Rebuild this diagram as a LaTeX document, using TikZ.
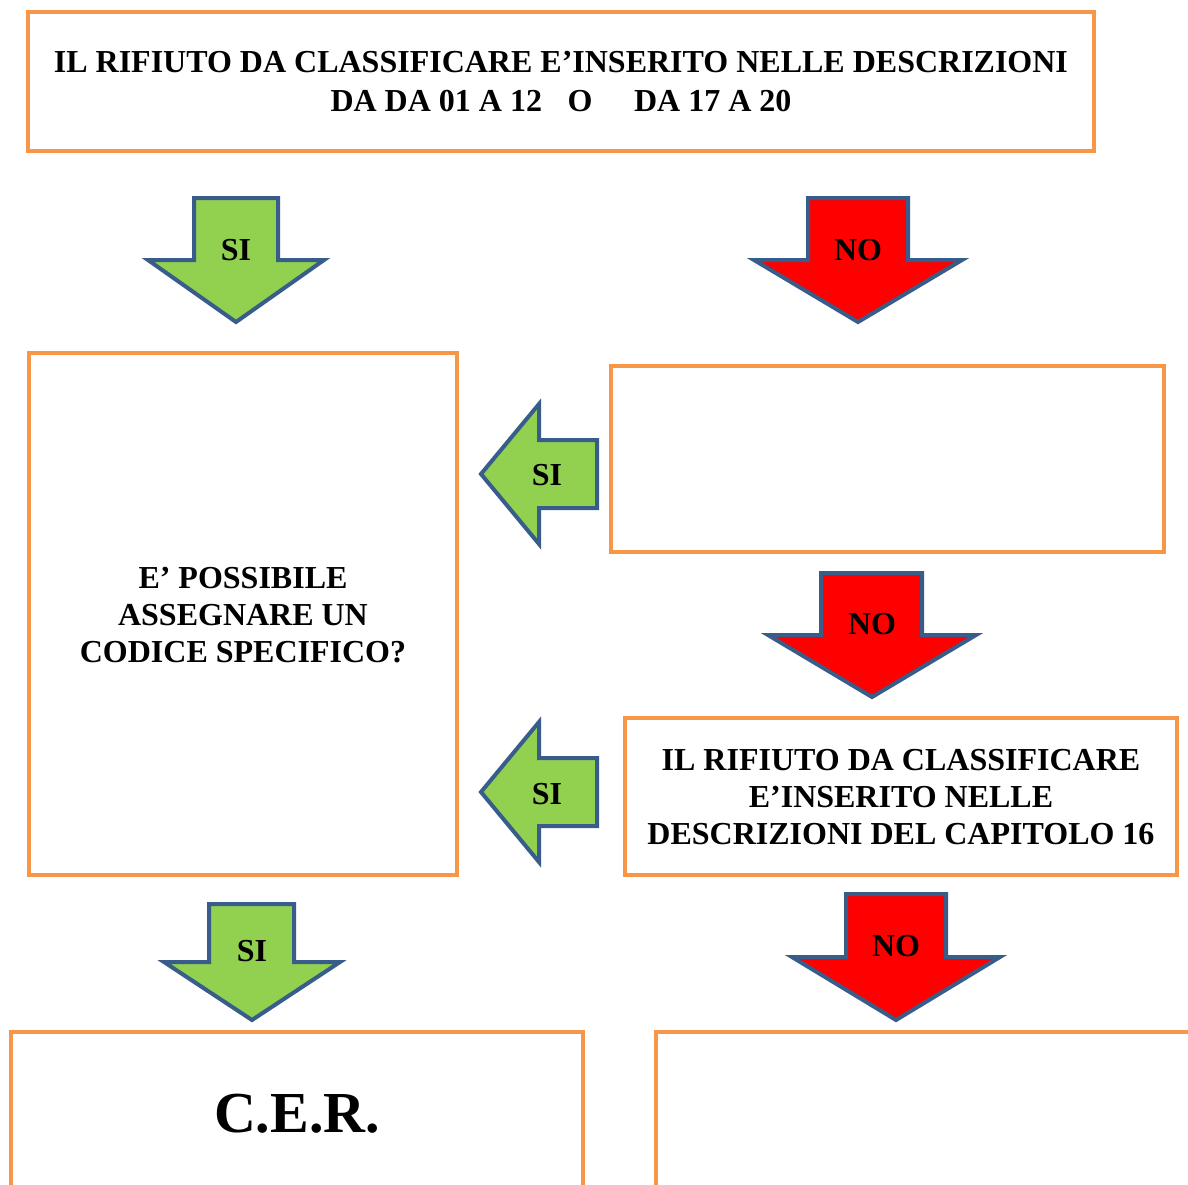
\documentclass[tikz,border=0pt]{standalone}
\usepackage{fontspec}
\setmainfont{Liberation Serif}
\usetikzlibrary{fit}
\definecolor{boxorange}{HTML}{F79646}
\definecolor{arrblue}{HTML}{385D8A}
\definecolor{sigreen}{HTML}{92D050}
\definecolor{nored}{HTML}{FF0000}
\tikzset{
  box/.style={draw=boxorange, line width=2pt, inner sep=0pt, fill=white},
  boxtext/.style={font=\fontsize{16}{18.5}\selectfont\bfseries, align=center, inner sep=0pt},
  siarrow/.style={draw=arrblue, fill=sigreen, line width=2pt, line join=miter},
  noarrow/.style={draw=arrblue, fill=nored, line width=2pt, line join=miter},
  arrlabel/.style={font=\fontsize{16}{18}\selectfont\bfseries, inner sep=0pt},
}
\begin{document}
\begin{tikzpicture}[x=0.5pt,y=-0.5pt]
\useasboundingbox (0,0) rectangle (1188,1184);
\clip (0,0) rectangle (1188,1184);
\fill[white] (0,0) rectangle (1188,1184);

% boxes
\node[box, fit={(28,12) (1094,151)}] (top) {};
\node[boxtext] (toptext) at (561,82) {IL RIFIUTO DA CLASSIFICARE E’INSERITO NELLE DESCRIZIONI\\[1pt]DA DA 01 A 12\hspace{0.8em}O\hspace{1.3em}DA 17 A 20};

\node[box, fit={(29,353) (457,875)}] (left) {};
\node[boxtext] (lefttext) at (243,615) {E’ POSSIBILE\\ASSEGNARE UN\\CODICE SPECIFICO?};

\node[box, fit={(611,366) (1164,552)}] (right1) {};

\node[box, fit={(625,718) (1177,875)}] (right2) {};
\node[boxtext] (right2text) at (901,797) {IL RIFIUTO DA CLASSIFICARE\\E’INSERITO NELLE\\DESCRIZIONI DEL CAPITOLO 16};

\node[box, fit={(11,1032) (583,1260)}] (cer) {};
\node[font=\fontsize{29}{32}\selectfont\bfseries, inner sep=0pt] (certext) at (297,1114) {C.E.R.};

\node[box, fit={(656,1032) (1240,1260)}] (other) {};

% block arrows
\draw[siarrow] (194,198) -- (278,198) -- (278,260) -- (324,260) -- (236,322) -- (148,260) -- (194,260) -- cycle;
\node[arrlabel] (si1) at (236,250) {SI};

\draw[noarrow] (808,198) -- (908,198) -- (908,260) -- (962,260) -- (858,322) -- (754,260) -- (808,260) -- cycle;
\node[arrlabel] (no1) at (858,250) {NO};

\draw[siarrow] (597,440) -- (597,508) -- (539,508) -- (539,544) -- (481,474) -- (539,404) -- (539,440) -- cycle;
\node[arrlabel] (si2) at (547,475) {SI};

\draw[noarrow] (821,573) -- (922,573) -- (922,635) -- (976,635) -- (872,697) -- (768,635) -- (821,635) -- cycle;
\node[arrlabel] (no2) at (872,624) {NO};

\draw[siarrow] (597,758) -- (597,826) -- (539,826) -- (539,862) -- (481,792) -- (539,722) -- (539,758) -- cycle;
\node[arrlabel] (si3) at (547,794) {SI};

\draw[siarrow] (209,904) -- (294,904) -- (294,962) -- (340,962) -- (252,1020) -- (164,962) -- (209,962) -- cycle;
\node[arrlabel] (si4) at (252,951) {SI};

\draw[noarrow] (846,894) -- (946,894) -- (946,957) -- (1000,957) -- (896,1020) -- (792,957) -- (846,957) -- cycle;
\node[arrlabel] (no3) at (896,946) {NO};
\end{tikzpicture}
\end{document}
